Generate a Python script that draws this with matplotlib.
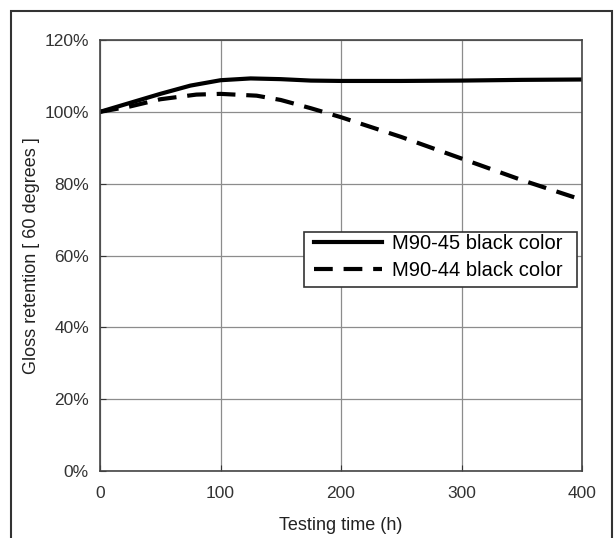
import matplotlib
matplotlib.use("Agg")
import matplotlib.pyplot as plt
from matplotlib.patches import Rectangle
from matplotlib.ticker import FuncFormatter

# testing time (h) and gloss retention (%)
hours_m45 = [0, 25, 50, 75, 100, 125, 150, 175, 200, 250, 300, 350, 400]
gloss_m45 = [100, 102.5, 105, 107.3, 108.8, 109.3, 109.1, 108.7, 108.6, 108.6, 108.7, 108.9, 109.0]
hours_m44 = [0, 25, 50, 80, 100, 130, 150, 175, 200, 250, 300, 350, 400]
gloss_m44 = [100, 101.5, 103.5, 104.8, 105, 104.5, 103.3, 101, 98.5, 93, 87, 81, 75.5]
labels = ["M90-45 black color", "M90-44 black color"]

plt.rcParams["font.family"] = ["Liberation Sans", "DejaVu Sans"]
fig = plt.figure(figsize=(6.15, 5.38), dpi=100)
ax = fig.add_axes([100 / 615, 1 - 471 / 538, 482 / 615, 431 / 538])

ax.plot(hours_m45, gloss_m45, color="black", lw=3, label=labels[0])
ax.plot(hours_m44, gloss_m44, color="black", lw=3, ls=(0, (4.5, 2.6)), label=labels[1])

ax.set_xlim(0, 400)
ax.set_ylim(0, 120)
ax.set_xticks(range(0, 401, 100))
ax.set_yticks(range(0, 121, 20))
ax.yaxis.set_major_formatter(FuncFormatter(lambda v, p: f"{v:.0f}%"))
ax.grid(True, color="#8c8c8c", lw=0.9)
ax.tick_params(direction="in", length=4, labelsize=12.5, colors="#333333")
ax.tick_params(axis="x", pad=11)
ax.tick_params(axis="y", pad=8)
for s in ax.spines.values():
    s.set_color("#444444")
    s.set_linewidth(1.2)

ax.set_xlabel("Testing time (h)", fontsize=13, color="#222222", labelpad=11)
ax.set_ylabel("Gloss retention [ 60 degrees ]", fontsize=13, color="#222222", labelpad=3)

# legend box is wider than the content, so draw its frame separately
ax.add_patch(Rectangle((204 / 482, 184 / 431), 273 / 482, 55 / 431, transform=ax.transAxes,
                       facecolor="white", edgecolor="#333333", lw=1.2, zorder=4))
leg = ax.legend(loc="upper left", bbox_to_anchor=(214 / 482, (471 - 234) / 431),
                fontsize=14.5, frameon=False, handlelength=3.4, borderpad=0,
                labelspacing=0.4, handletextpad=0.45, borderaxespad=0)
leg.set_zorder(5)

# outer chart frame (bottom cut off in the original)
fig.patches.append(Rectangle((11 / 615, -0.05), 601 / 615, 1.05 - 11 / 538,
                             transform=fig.transFigure, fill=False,
                             edgecolor="#333333", lw=1.5))

fig.savefig("out.png", dpi=100)
